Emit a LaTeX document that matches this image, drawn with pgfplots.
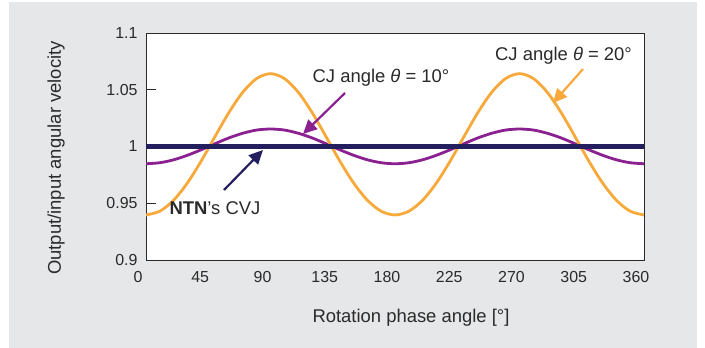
\documentclass[border=0pt]{standalone}
\usepackage{fontspec}
\setmainfont{Liberation Sans}
\usepackage{pgfplots}
\pgfplotsset{compat=1.18}
\usetikzlibrary{arrows.meta}
\definecolor{bg}{HTML}{E6E7E8}
\definecolor{cjor}{HTML}{F8A93B}
\definecolor{cjpu}{HTML}{8B2190}
\definecolor{ntn}{HTML}{231F5E}
\definecolor{txt}{HTML}{2A2A2A}
\begin{document}
\begin{tikzpicture}
\useasboundingbox (0,0) rectangle (705bp,-348bp);
\fill[bg] (9bp,-2bp) rectangle (697bp,-348bp);
\begin{axis}[
  at={(146bp,-260bp)}, anchor=south west,
  width=498bp, height=227bp, scale only axis,
  xmin=0, xmax=360, ymin=0.9, ymax=1.1,
  axis background/.style={fill=white},
  axis line style={draw=txt, line width=1bp},
  xtick={0,45,90,135,180,225,270,315,360},
  xticklabels={0,45,90,135,180,225,270,305,360},
  xtick style={draw=none},
  ytick={0.9,0.95,1,1.05,1.1},
  yticklabels={0.9,0.95,1,1.05,1.1},
  ytick pos=left, tick align=inside, major tick length=10bp,
  ytick style={draw=txt, line width=0.8bp},
  tick label style={font=\fontsize{16}{19}\selectfont, text=txt},
  xticklabel style={xshift=-8bp, yshift=-8bp},
  yticklabel style={xshift=-5bp},
]
\addplot[cjpu, line width=2.8bp, smooth] coordinates {
(0,0.9848)(10,0.9857)(20,0.9883)(30,0.9923)(40,0.9972)(50,1.0025)(60,1.0076)(70,1.0117)(80,1.0145)(90,1.0154)
(100,1.0145)(110,1.0117)(120,1.0076)(130,1.0025)(140,0.9972)(150,0.9923)(160,0.9883)(170,0.9857)(180,0.9848)
(190,0.9857)(200,0.9883)(210,0.9923)(220,0.9972)(230,1.0025)(240,1.0076)(250,1.0117)(260,1.0145)(270,1.0154)
(280,1.0145)(290,1.0117)(300,1.0076)(310,1.0025)(320,0.9972)(330,0.9923)(340,0.9883)(350,0.9857)(360,0.9848)
};
\addplot[cjor, line width=2.8bp, smooth] coordinates {
(0,0.9397)(10,0.9430)(20,0.9527)(30,0.9680)(40,0.9874)(50,1.0090)(60,1.0301)(70,1.0479)(80,1.0599)(90,1.0642)
(100,1.0599)(110,1.0479)(120,1.0301)(130,1.0090)(140,0.9874)(150,0.9680)(160,0.9527)(170,0.9430)(180,0.9397)
(190,0.9430)(200,0.9527)(210,0.9680)(220,0.9874)(230,1.0090)(240,1.0301)(250,1.0479)(260,1.0599)(270,1.0642)
(280,1.0599)(290,1.0479)(300,1.0301)(310,1.0090)(320,0.9874)(330,0.9680)(340,0.9527)(350,0.9430)(360,0.9397)
};
\addplot[ntn, line width=4.5bp] coordinates {(0,1)(360,1)};
\end{axis}
\begin{scope}[font=\fontsize{18.5}{21}\selectfont, text=txt]
\node at (381bp,-78bp) {CJ angle \textit{θ} = 10°};
\node at (563.5bp,-56bp) {CJ angle \textit{θ} = 20°};
\node at (215bp,-208bp) {\textbf{NTN}’s CVJ};
\node[rotate=90] at (56bp,-158bp) {Output/input angular velocity};
\node at (411bp,-318bp) {Rotation phase angle [°]};
\end{scope}
\draw[cjpu, line width=2.2bp, -{Triangle[length=14bp,width=13bp]}] (345bp,-93bp) -- (303bp,-134bp);
\draw[cjor, line width=2.2bp, -{Triangle[length=14bp,width=13bp]}] (583bp,-69bp) -- (553bp,-103bp);
\draw[ntn, line width=2.2bp, -{Triangle[length=14bp,width=13bp]}] (224bp,-190bp) -- (263bp,-150bp);
\end{tikzpicture}
\end{document}
